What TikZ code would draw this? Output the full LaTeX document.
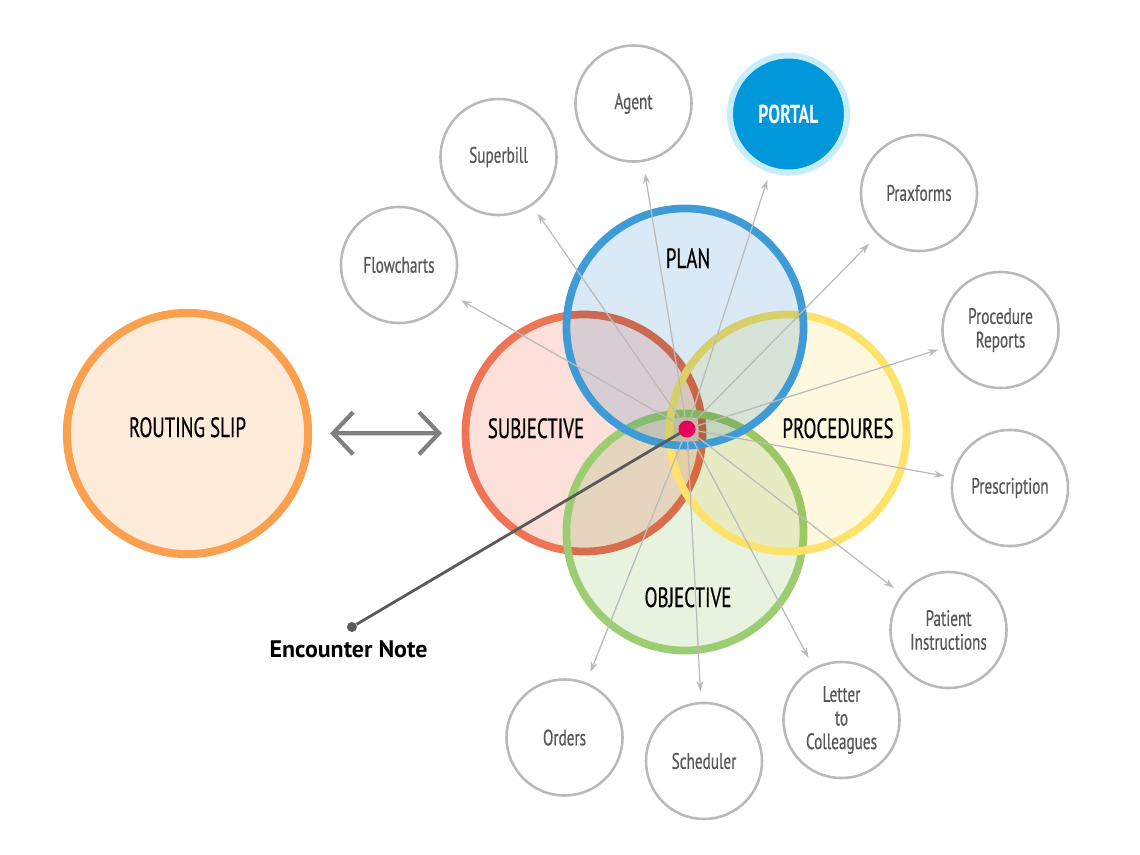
\documentclass[tikz,border=0pt]{standalone}
\usepackage{fontspec}
\setmainfont{PT Sans}[FakeStretch=0.68,UprightFeatures={FakeBold=0.5}]
\newfontfamily\notefont{PT Sans}
\usetikzlibrary{arrows,arrows.meta}
\definecolor{slipring}{HTML}{FBA04E}
\definecolor{slipfill}{HTML}{FEEBDA}
\definecolor{subjring}{HTML}{EF7456}
\definecolor{subjfill}{HTML}{FDE0DA}
\definecolor{planring}{HTML}{3F9BD5}
\definecolor{planfill}{HTML}{D9EAF6}
\definecolor{procring}{HTML}{FDE26B}
\definecolor{procfill}{HTML}{FEF8DF}
\definecolor{objring}{HTML}{9DCD72}
\definecolor{objfill}{HTML}{E7F2DF}
\definecolor{ringgray}{HTML}{B9B9B9}
\definecolor{labelgray}{HTML}{575757}
\definecolor{arrowgray}{HTML}{BBBBBB}
\definecolor{dblgray}{HTML}{808080}
\definecolor{encgray}{HTML}{5A5A5A}
\definecolor{hubpink}{HTML}{E6005C}
\definecolor{portalblue}{HTML}{0098DB}
\definecolor{portalring}{HTML}{C6EDFA}
\tikzstyle{bigring}=[circle,minimum size=5.925cm,inner sep=0,line width=5.5pt]
\tikzstyle{smallring}=[circle,minimum size=2.9cm,inner sep=0,line width=1.8pt,draw=ringgray,text=labelgray,align=center,font=\fontsize{15.9}{16.8}\selectfont]
\tikzstyle{biglabel}=[anchor=base,inner sep=0,text=black,font=\fontsize{19.8}{22}\selectfont]
\tikzstyle{arrow}=[line width=0.9pt,draw=arrowgray,-{Stealth[length=2.6mm,width=1.8mm,fill=arrowgray]}]
\tikzstyle{dblarrow}=[line width=3pt,draw=dblgray,{Straight Barb[length=5mm,width=10.5mm]}-{Straight Barb[length=5mm,width=10.5mm]}]
\tikzstyle{encline}=[line width=2pt,draw=encgray]
\tikzstyle{encdot}=[circle,minimum size=0.25cm,inner sep=0,fill=encgray]
\tikzstyle{hubdot}=[circle,minimum size=0.425cm,inner sep=0,fill=hubpink]

\begin{document}
\begin{tikzpicture}[x=0.025cm,y=-0.025cm]
\useasboundingbox (0,0) rectangle (1140,855);

\node[bigring,draw=slipring,fill=slipfill,minimum size=6.03cm,line width=5.7pt] (slip) at (187.5,433.5) {};
\node[biglabel] (sliptxt) at (187.5,437) {ROUTING SLIP};

% soap circles, plan on top
\foreach \n/\x/\y in {subj/584/433, obj/685/532, proc/788/433, plan/685/327}{
	\fill[\n fill,blend mode=multiply] (\x,\y) circle[radius=2.9625cm];
	\node[bigring,draw=\n ring] (\n) at (\x,\y) {};
}
\node[biglabel] (plantxt) at (688,268) {PLAN};
\node[biglabel] (subjtxt) at (536,438) {SUBJECTIVE};
\node[biglabel] (proctxt) at (838,438) {PROCEDURES};
\node[biglabel] (objtxt) at (688,607) {OBJECTIVE};

\draw[dblarrow,shorten <=4.5mm,shorten >=4.9mm] (slip) -- (subj);

% outputs
\foreach \n/\x/\y/\t in {flow/399/265/Flowcharts, bill/498.5/157/Superbill, agent/633.5/103.5/Agent,
	prax/919/193/Praxforms, reports/1000.5/330/{Procedure\\Reports}, presc/1010/488/Prescription,
	patient/948.5/630/{Patient\\Instructions}, letter/841.5/720/{Letter\\to\\Colleagues},
	sched/704/761/Scheduler, orders/564.5/737.5/Orders}
	\node[smallring] (\n) at (\x,\y) {\t};
\node[smallring,draw=portalring,fill=portalblue,line width=4.3pt,minimum size=2.925cm,text=white,font=\bfseries\fontsize{18.5}{20}\selectfont] (portal) at (788.5,114) {PORTAL};

\coordinate (hub) at (687,429);
\foreach \n/\g in {flow/3.0, bill/2.4, agent/2.9, portal/1.9, prax/3.0, reports/1.5,
	presc/1.9, patient/2.4, letter/2.8, sched/2.6, orders/2.8}
	\draw[arrow,shorten >=\g mm] (hub) -- (\n);

\node[encdot] (enc) at (352,627) {};
\draw[encline] (hub) -- (enc);
\node[anchor=base,inner sep=0,font=\notefont\bfseries\fontsize{17}{19}\selectfont] (enctxt) at (348.5,657) {Encounter Note};
\node[hubdot] (dot) at (hub) {};
\end{tikzpicture}
\end{document}
